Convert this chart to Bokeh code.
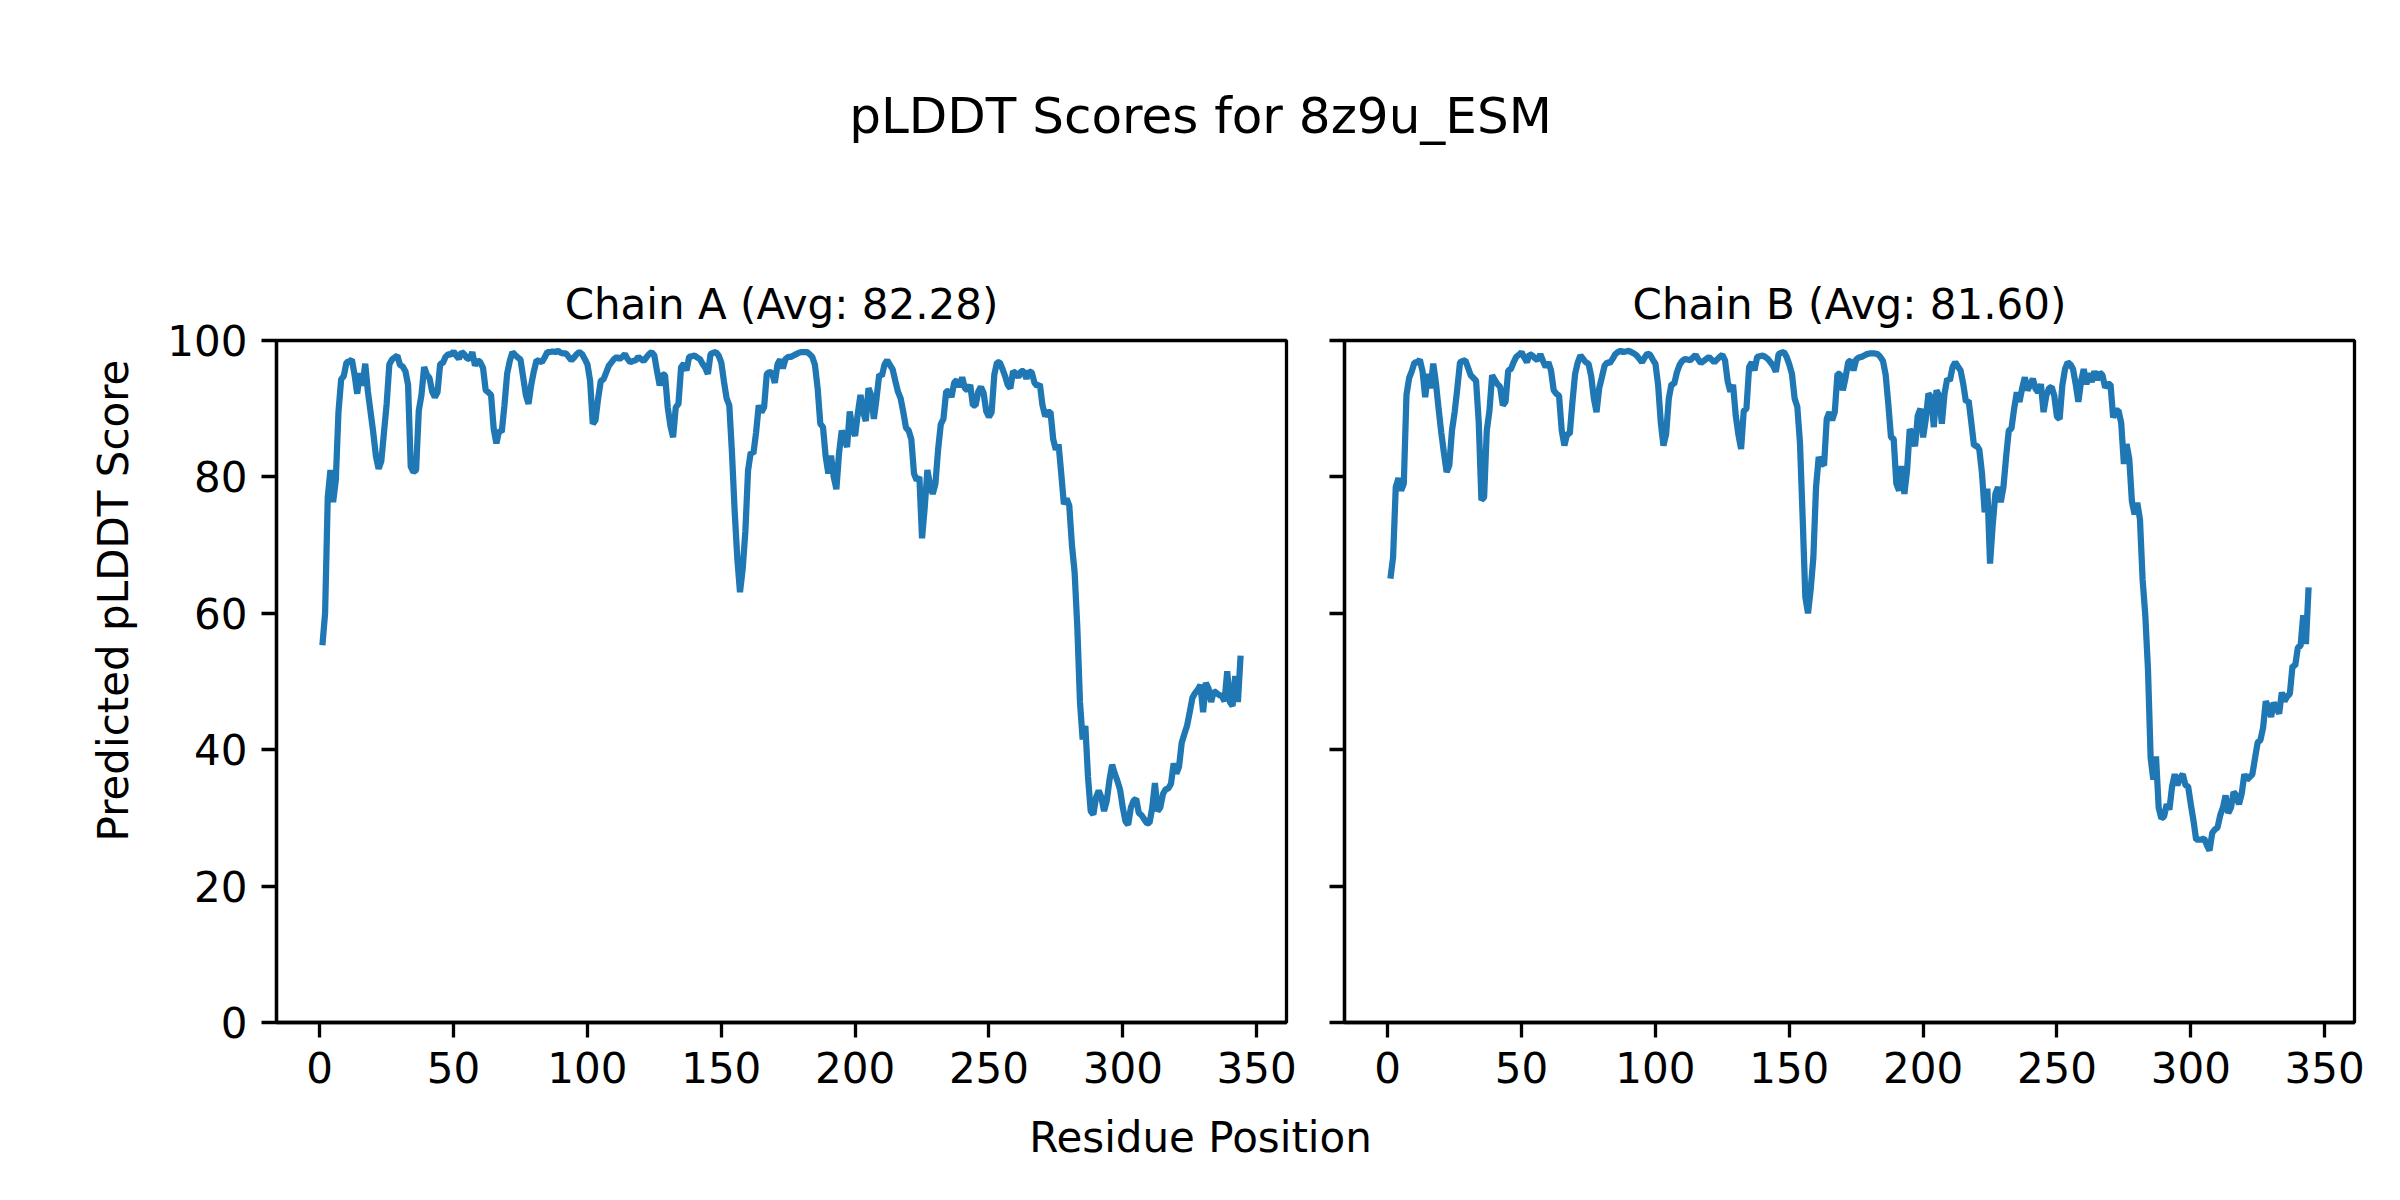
import math
from bokeh.plotting import figure
from bokeh.layouts import row, column
from bokeh.models import Range1d, FixedTicker, Label
from bokeh.core.properties import value
from bokeh.embed import file_html
from bokeh.resources import INLINE

# ---------------- data ----------------
chain_a = [
    55.3, 60.0, 77.0, 81.0, 76.3, 79.5, 89.5, 94.3, 94.8, 96.8,
    96.9, 97.2, 95.0, 92.2, 95.2, 93.4, 96.6, 92.5, 89.5, 86.5,
    83.0, 81.2, 82.3, 86.5, 90.7, 96.5, 97.2, 97.5, 97.8, 96.4,
    96.2, 95.5, 93.5, 81.5, 80.7, 81.0, 89.7, 92.0, 96.1, 95.0,
    94.5, 92.5, 91.7, 92.4, 96.6, 96.7, 97.6, 98.0, 97.9, 98.4,
    97.8, 97.3, 98.3, 98.0, 97.4, 97.3, 98.3, 96.3, 97.1, 96.8,
    96.0, 92.7, 92.4, 92.0, 87.0, 84.9, 86.8, 86.6, 90.5, 95.1,
    97.0, 98.3, 97.9, 97.5, 97.2, 94.6, 92.0, 90.7, 93.5, 95.5,
    97.1, 97.0, 96.8, 97.5, 98.3, 98.3, 98.4, 98.3, 98.5, 98.2,
    98.1, 98.1, 97.6, 97.1, 97.5, 98.0, 98.3, 98.0, 97.3, 96.5,
    94.1, 87.8, 88.3, 91.5, 94.1, 94.3, 95.3, 96.3, 96.8, 97.3,
    97.6, 97.3, 97.6, 98.0, 97.3, 96.8, 97.0, 97.1, 97.6, 97.3,
    97.0, 97.5, 98.0, 98.3, 97.8, 95.5, 93.4, 95.1, 94.9, 90.2,
    87.5, 85.8, 90.2, 90.7, 96.1, 96.6, 95.6, 97.6, 97.7, 97.8,
    97.5, 97.3, 96.6, 96.0, 95.1, 98.0, 98.2, 98.3, 97.8, 96.8,
    94.0, 91.5, 90.5, 83.5, 75.0, 68.0, 63.1, 66.5, 72.0, 80.9,
    83.6, 83.4, 86.5, 90.5, 89.5, 90.2, 95.1, 95.4, 95.2, 93.8,
    96.5, 97.2, 95.9, 97.3, 97.6, 97.6, 97.8, 98.0, 98.2, 98.3,
    98.3, 98.3, 98.0, 97.6, 96.4, 93.0, 87.8, 87.3, 83.0, 80.5,
    83.1, 80.0, 78.2, 83.5, 86.8, 85.5, 84.4, 89.6, 87.0, 86.0,
    89.3, 92.0, 89.5, 88.2, 93.0, 92.0, 88.5, 91.5, 95.0, 94.8,
    96.5, 97.1, 96.4, 95.8, 94.1, 92.5, 91.5, 89.5, 87.2, 86.8,
    85.5, 80.5, 79.5, 80.0, 71.0, 75.5, 81.0, 78.8, 77.5, 79.0,
    84.0, 87.7, 88.5, 92.5, 92.6, 91.7, 93.8, 94.2, 93.2, 94.6,
    93.0, 92.7, 93.5, 90.5, 90.5, 92.5, 93.2, 92.3, 89.6, 88.8,
    89.5, 95.0, 96.8, 96.8, 95.9, 94.8, 93.5, 93.0, 95.5, 95.2,
    94.6, 95.5, 95.5, 94.4, 95.5, 95.3, 93.8, 93.3, 93.6, 90.5,
    88.9, 89.5, 89.5, 85.5, 84.0, 84.8, 80.5, 76.0, 76.8, 75.8,
    70.0, 66.0, 58.0, 47.0, 41.5, 43.5, 36.0, 31.0, 30.5, 33.0,
    34.0, 33.0, 31.0, 32.5, 35.5, 37.8, 36.5, 35.4, 34.1, 31.5,
    29.5, 29.0, 31.5, 32.5, 32.8, 30.7, 30.4, 29.8, 29.2, 29.3,
    31.5, 35.1, 31.0, 31.5, 33.5, 34.2, 34.3, 35.0, 38.0, 36.5,
    37.5, 41.0, 42.3, 43.5, 45.5, 47.6, 48.3, 48.8, 49.5, 45.5,
    49.8, 49.0, 47.0, 48.6, 48.3, 48.0, 47.9, 47.1, 51.5, 47.0,
    46.4, 50.8, 47.0, 53.8,
]

chain_b = [
    65.1, 68.2, 78.5, 79.8, 78.0, 79.0, 92.0, 94.5, 95.5, 96.8,
    96.8, 97.2, 95.5, 91.7, 95.1, 93.0, 96.6, 93.8, 90.0, 86.5,
    83.5, 80.7, 81.7, 86.8, 89.5, 93.0, 96.8, 97.0, 97.1, 96.0,
    94.9, 94.5, 94.1, 88.0, 76.6, 77.0, 86.8, 89.7, 94.9, 94.2,
    93.6, 93.2, 90.5, 91.0, 95.6, 95.8, 96.8, 97.6, 97.9, 98.3,
    97.5, 96.8, 98.0, 97.8, 97.4, 97.1, 98.0, 97.0, 96.1, 96.8,
    95.6, 92.7, 92.2, 91.9, 86.8, 84.6, 86.3, 86.3, 91.0, 95.1,
    96.8, 97.8, 97.3, 96.8, 96.6, 94.8, 91.5, 89.5, 93.0, 94.6,
    96.3, 96.8, 96.7, 97.3, 98.0, 98.3, 98.5, 98.3, 98.4, 98.5,
    98.3, 98.1, 97.8, 97.3, 96.8, 97.5, 98.1, 97.9, 97.2, 96.6,
    93.5, 88.0, 84.6, 86.3, 91.5, 93.6, 93.6, 95.3, 96.4, 97.0,
    97.3, 97.2, 97.1, 97.5, 97.9, 97.2, 96.7, 97.0, 97.3, 97.6,
    97.2, 96.8, 97.2, 97.6, 97.9, 97.1, 94.0, 92.5, 93.5, 89.0,
    86.2, 84.1, 89.7, 90.0, 96.1, 96.8, 95.6, 97.6, 97.7, 97.8,
    97.6, 97.3, 96.8, 96.3, 95.4, 98.0, 98.2, 98.3, 97.6, 96.5,
    95.1, 91.5, 90.3, 85.0, 74.0, 62.4, 60.0, 63.5, 68.2, 78.5,
    82.9, 82.0, 81.7, 88.5, 89.5, 88.3, 89.5, 95.1, 95.1, 92.7,
    94.5, 96.8, 97.1, 95.6, 97.2, 97.5, 97.6, 97.8, 98.0, 98.1,
    98.1, 98.1, 98.0, 97.6, 97.0, 95.0, 90.7, 85.8, 85.6, 79.0,
    78.0, 81.6, 77.5, 80.9, 87.0, 86.3, 84.5, 89.0, 90.0, 85.8,
    88.5, 92.2, 91.7, 87.3, 92.7, 91.9, 87.8, 92.2, 94.4, 94.1,
    96.1, 96.8, 96.2, 95.6, 93.6, 91.0, 91.2, 88.0, 84.6, 84.6,
    84.0, 80.5, 74.8, 78.3, 67.3, 73.0, 77.5, 78.5, 76.3, 78.5,
    82.9, 86.8, 87.1, 90.0, 92.4, 91.0, 93.0, 94.6, 92.7, 93.5,
    94.4, 92.9, 92.4, 93.6, 89.5, 91.9, 93.0, 93.2, 91.9, 88.8,
    88.5, 93.4, 95.8, 96.8, 96.5, 95.8, 93.6, 91.0, 94.0, 95.8,
    93.6, 95.2, 93.9, 95.5, 94.2, 95.3, 94.9, 93.1, 93.6, 93.6,
    88.7, 89.7, 89.7, 87.9, 81.9, 84.8, 82.7, 76.4, 74.5, 76.2,
    73.8, 64.9, 59.7, 51.8, 38.8, 35.6, 39.0, 31.5, 29.9, 30.2,
    32.0, 31.2, 34.6, 36.4, 34.8, 35.9, 36.4, 34.8, 34.6, 32.0,
    29.6, 26.8, 26.8, 26.8, 27.0, 26.0, 25.2, 27.8, 28.3, 28.6,
    30.4, 31.5, 33.3, 30.7, 31.5, 33.8, 33.3, 32.0, 33.5, 36.4,
    35.6, 36.0, 36.4, 38.8, 41.1, 41.4, 43.2, 47.1, 46.3, 44.8,
    46.9, 46.1, 45.3, 48.4, 47.1, 47.8, 48.2, 52.3, 52.3, 55.0,
    55.2, 59.7, 55.5, 63.8,
]

residues_a = list(range(1, len(chain_a) + 1))
residues_b = list(range(1, len(chain_b) + 1))

x_ticks = [0, 50, 100, 150, 200, 250, 300, 350]
y_ticks = [0, 20, 40, 60, 80, 100]

suptitle = "pLDDT Scores for 8z9u_ESM"
titles = ["Chain A (Avg: 82.28)", "Chain B (Avg: 81.60)"]
x_label = "Residue Position"
y_label = "Predicted pLDDT Score"

# ---------------- style ----------------
FONT = "DejaVu Sans"
BLUE = "#1f77b4"
SMALL = "42px"
BIG = "50px"
SPINE = 3.3


def data_range(xs):
    lo, hi = min(xs), max(xs)
    pad = 0.05 * (hi - lo)
    return Range1d(lo - pad, hi + pad)


def panel(xs, ys, title, b_left, b_right, show_ylabels):
    p = figure(frame_width=1010, frame_height=682,
               x_range=data_range(xs), y_range=Range1d(0, 100),
               output_backend="svg", toolbar_location=None,
               min_border_left=b_left, min_border_right=b_right,
               min_border_top=90, min_border_bottom=88,
               title=title)
    p.line(xs, ys, line_color=BLUE, line_width=6.25)
    p.grid.visible = False
    p.outline_line_color = "black"
    p.outline_line_width = SPINE
    p.outline_line_alpha = 1.0
    p.background_fill_color = "white"
    p.border_fill_color = "white"

    p.title.text_font = FONT
    p.title.text_font_size = SMALL
    p.title.text_font_style = "normal"
    p.title.text_color = "black"
    p.title.align = "center"
    p.title.standoff = 23

    p.xaxis.ticker = FixedTicker(ticks=x_ticks)
    p.yaxis.ticker = FixedTicker(ticks=y_ticks)
    for ax in (p.xaxis[0], p.yaxis[0]):
        ax.axis_line_color = "black"
        ax.axis_line_width = SPINE
        ax.major_tick_line_color = "black"
        ax.major_tick_line_width = SPINE
        ax.major_tick_out = 15
        ax.major_tick_in = 0
        ax.minor_tick_out = 0
        ax.minor_tick_in = 0
        ax.minor_tick_line_color = None
        ax.major_label_text_font = FONT
        ax.major_label_text_font_size = SMALL
        ax.major_label_text_color = "black"
        ax.major_label_standoff = 14
    if not show_ylabels:
        p.yaxis.major_label_overrides = {t: "" for t in y_ticks}
        p.yaxis.major_label_standoff = 0
        p.yaxis.major_label_text_font_size = "0px"
    return p


def text_fig(width, height, x0, y0):
    f = figure(width=width, height=height,
               x_range=Range1d(x0, x0 + width), y_range=Range1d(y0 + height, y0),
               output_backend="svg", toolbar_location=None, title=None,
               min_border=0, x_axis_location=None, y_axis_location=None,
               outline_line_color=None)
    f.grid.visible = False
    f.background_fill_color = "white"
    f.border_fill_color = "white"
    return f


# ---------------- layout (page pixel coordinates) ----------------
pa = panel(residues_a, chain_a, titles[0], 128, 29, True)
pb = panel(residues_b, chain_b, titles[1], 29, 38, False)

top = text_fig(2244, 250, 148, 0)
top.text(x=[1200], y=[115], text=[suptitle], text_font=value(FONT),
         text_font_size=BIG, text_align="center", text_baseline="alphabetic",
         text_color="black")

bottom = text_fig(2244, 74, 148, 1110)
bottom.text(x=[1200], y=[1137], text=[x_label], text_font=value(FONT),
            text_font_size=SMALL, text_align="center", text_baseline="alphabetic",
            text_color="black")

strip = text_fig(148, 1184, 0, 0)
strip.add_layout(Label(x=113, y=600, text=y_label, text_font=FONT,
                       text_font_size=SMALL, text_align="center",
                       text_baseline="alphabetic", angle=math.pi / 2,
                       text_color="black"))

layout = row(strip, column(top, row(pa, pb), bottom))

open("out.html", "w").write(file_html(layout, INLINE))
